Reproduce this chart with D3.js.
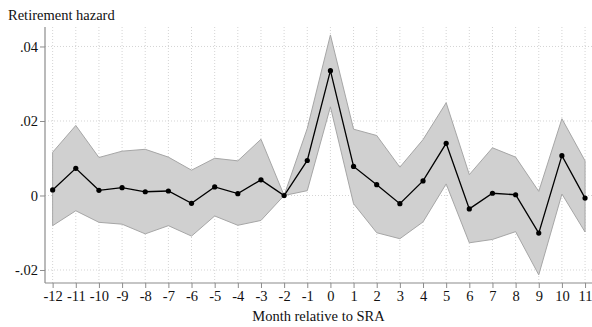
<!DOCTYPE html>
<html>
<head>
<meta charset="utf-8">
<script src="https://cdn.jsdelivr.net/npm/d3@7"></script>
<style>
  html, body { margin: 0; padding: 0; background: #fff; }
  svg { display: block; }
  text { font-family: "Liberation Serif", "Times New Roman", serif; fill: #111; }
</style>
</head>
<body>
<svg id="chart" width="592" height="327"></svg>
<script>
// Months relative to the statutory retirement age (SRA)
const months = [-12,-11,-10,-9,-8,-7,-6,-5,-4,-3,-2,-1,0,1,2,3,4,5,6,7,8,9,10,11];
// Point estimates of the retirement hazard (month -2 is the reference)
const estimate = [0.0015,0.0073,0.0014,0.0021,0.0010,0.0012,-0.0021,0.0023,0.0005,0.0042,0.0000,0.0094,0.0335,0.0078,0.0029,-0.0022,0.0039,0.0140,-0.0036,0.0006,0.0002,-0.0101,0.0107,-0.0007];
// 95% confidence bounds
const upper = [0.0116,0.0188,0.0102,0.0119,0.0124,0.0103,0.0068,0.0100,0.0093,0.0151,0.0000,0.0180,0.0431,0.0178,0.0161,0.0076,0.0150,0.0249,0.0056,0.0128,0.0103,0.0011,0.0206,0.0093];
const lower = [-0.0081,-0.0041,-0.0072,-0.0077,-0.0103,-0.0081,-0.0109,-0.0055,-0.0080,-0.0067,0.0000,0.0013,0.0238,-0.0022,-0.0100,-0.0116,-0.0071,0.0031,-0.0127,-0.0118,-0.0097,-0.0213,0.0004,-0.0098];
const yTicks = [-0.02, 0, 0.02, 0.04];
const yTickLabels = ["-.02", "0", ".02", ".04"];

const svg = d3.select("#chart");
const plot = { left: 45, right: 592, top: 27, bottom: 283 };
const fontSize = "14.5px";

const x = d3.scaleLinear().domain([-12.33, 11.3]).range([plot.left, plot.right]);
const y = d3.scaleLinear().domain([-0.02349, 0.04523]).range([plot.bottom, plot.top]);

const rows = months.map((m, i) => ({ m, est: estimate[i], lo: lower[i], hi: upper[i] }));

// Dotted grid
const grid = svg.append("g");
grid.selectAll("line.v").data(months).join("line")
  .attr("x1", d => x(d)).attr("x2", d => x(d))
  .attr("y1", plot.top).attr("y2", plot.bottom)
  .attr("stroke", "#d4d4d4").attr("stroke-width", 1).attr("stroke-dasharray", "1,2");
grid.selectAll("line.h").data(yTicks).join("line")
  .attr("x1", plot.left).attr("x2", plot.right)
  .attr("y1", d => y(d)).attr("y2", d => y(d))
  .attr("stroke", "#d4d4d4").attr("stroke-width", 1).attr("stroke-dasharray", "1,2");

// Confidence band
svg.append("path").datum(rows)
  .attr("d", d3.area().x(d => x(d.m)).y0(d => y(d.lo)).y1(d => y(d.hi)))
  .attr("fill", "#d0d0d0").attr("stroke", "#a6a6a6").attr("stroke-width", 1);

// Estimate line and markers
svg.append("path").datum(rows)
  .attr("d", d3.line().x(d => x(d.m)).y(d => y(d.est)))
  .attr("fill", "none").attr("stroke", "#000").attr("stroke-width", 1.3);
svg.selectAll("circle.pt").data(rows).join("circle")
  .attr("cx", d => x(d.m)).attr("cy", d => y(d.est)).attr("r", 2.6).attr("fill", "#000");

// Axes
const yAxis = d3.axisLeft(y).tickValues(yTicks)
  .tickFormat((d, i) => yTickLabels[i]).tickSize(5).tickPadding(2);
const gy = svg.append("g").attr("transform", `translate(${plot.left},0)`).call(yAxis);
gy.select(".domain").attr("d", `M0,${plot.top}V${plot.bottom}`);

const xAxis = d3.axisBottom(x).tickValues(months).tickFormat(d => String(d)).tickSize(5).tickPadding(3);
const gx = svg.append("g").attr("transform", `translate(0,${plot.bottom})`).call(xAxis);
gx.select(".domain").attr("d", `M${plot.left},0H${plot.right}`);

[gx, gy].forEach(g => {
  g.select(".domain").attr("stroke", "#8c8c8c").attr("stroke-width", 1.2);
  g.selectAll(".tick line").attr("stroke", "#8c8c8c");
  g.selectAll(".tick text").style("font-family", "'Liberation Serif', serif")
    .style("font-size", fontSize).attr("fill", "#111");
});

// Titles
svg.append("text").attr("x", 8).attr("y", 20).style("font-size", fontSize).text("Retirement hazard");
svg.append("text").attr("x", (plot.left + plot.right) / 2).attr("y", 321)
  .attr("text-anchor", "middle").style("font-size", fontSize).text("Month relative to SRA");
</script>
</body>
</html>
